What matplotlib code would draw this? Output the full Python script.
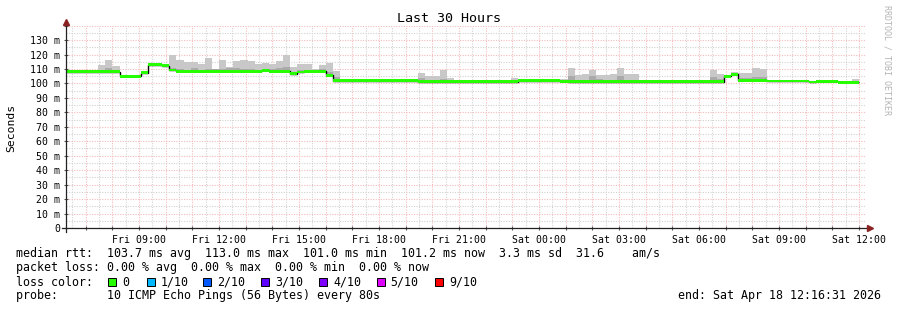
import numpy as np
import matplotlib.pyplot as plt
from matplotlib.patches import Rectangle
from matplotlib.ticker import MultipleLocator, FuncFormatter

# time is in hours since Fri 00:00, rtt in ms
t_start = 6 + 16 / 60 + 31 / 3600   # Fri 06:16:31
t_end = t_start + 30                 # Sat 12:16:31
bin0 = 6 + 8 / 60                    # first 16 min consolidation bin
bin_len = 16 / 60

# median rtt as runs: run starts at bin index, last entry closes the data
med_run_bin = [0, 8, 11, 12, 14, 15, 16, 28, 29, 32, 33, 34, 37, 38, 50, 64,
               70, 71, 93, 94, 95, 99, 105, 106, 109, 112]
med_run_ms = [108.1, 105.1, 107.4, 113.0, 112.3, 109.3, 108.3, 109.0, 108.3,
              106.8, 107.9, 108.4, 105.6, 101.9, 101.2, 101.8, 101.4, 101.1,
              104.9, 106.3, 102.2, 101.7, 101.0, 101.6, 100.9]

# smoke: bins where the ping spread shows, max ping and inner (darker) band top
smoke_bin = [5, 6, 7, 15, 16, 17, 18, 19, 20, 21, 22, 23, 24, 25, 26, 27, 28,
             29, 30, 31, 32, 33, 34, 35, 36, 37, 38, 50, 51, 52, 53, 54, 63,
             70, 71, 72, 73, 74, 75, 76, 77, 78, 79, 80, 90, 91, 92, 93, 94,
             95, 96, 97, 98, 111]
smoke_max = [112.7, 116.2, 112.0, 119.8, 116.2, 115.0, 115.0, 113.6, 117.8,
             110.0, 116.2, 111.3, 115.5, 116.2, 115.5, 113.4, 114.3, 113.4,
             115.4, 120.0, 111.6, 113.1, 113.1, 109.8, 112.8, 114.3, 108.6,
             107.4, 104.8, 104.8, 109.3, 103.7, 103.8,
             103.0, 110.6, 105.8, 106.5, 109.3, 105.8, 105.8, 106.5, 110.6,
             106.5, 106.5, 102.4, 109.3, 106.5, 105.5, 107.9, 107.0, 107.0,
             110.6, 110.3, 103.0]
smoke_mid = [109.0, 110.4, 109.0, 110.5, 109.8, 109.6, 110.8, 109.6, 110.0,
             110.0, 110.3, 111.0, 110.8, 109.8, 110.2, 109.6, 110.0, 110.2,
             111.0, 111.3, 108.0, 109.4, 109.4, 108.8, 109.8, 108.0, 104.5,
             103.6, 102.4, 102.4, 103.3, 101.8, 102.0,
             101.8, 105.2, 102.6, 102.4, 105.0, 103.0, 102.4, 102.6, 104.8,
             102.4, 102.4, 101.5, 104.5, 103.2, 105.0, 106.6, 103.8, 103.8,
             104.2, 104.2, 101.5]

loss_labels = ["0", "1/10", "2/10", "3/10", "4/10", "5/10", "9/10"]
loss_colors = ["#26ff00", "#00b8ff", "#0059ff", "#5e00ff", "#7e00ff",
               "#dd00ff", "#ff0000"]

mono = "DejaVu Sans Mono"
W, H = 897, 310

fig = plt.figure(figsize=(W / 100, H / 100), dpi=100)
fig.patch.set_facecolor("white")
ax = fig.add_axes([66.4 / W, 82 / H, 800 / W, 202.4 / H])

median = np.repeat(med_run_ms, np.diff(med_run_bin))
edges = bin0 + bin_len * np.arange(len(median) + 1)
sb = np.array(smoke_bin)
base = median[sb] - 1.0

ax.bar(edges[sb], np.array(smoke_max) - base, bottom=base, width=bin_len,
       align="edge", color="#c8c8c8", lw=0, zorder=2)
ax.bar(edges[sb], np.array(smoke_mid) - base, bottom=base, width=bin_len,
       align="edge", color="#aaaaaa", lw=0, zorder=2)

ax.stairs(median, edges, baseline=None, color="black", lw=1.0, zorder=3)
med_ext = np.append(median, median[-1])
ax.fill_between(edges, med_ext - 1.0, med_ext + 1.0, step="post",
                color="#26ff00", lw=0, zorder=4)

ax.set_xlim(t_start, t_end)
ax.set_ylim(0, 140)

# grids: red major, grey minor
ax.xaxis.set_major_locator(MultipleLocator(1))
ax.xaxis.set_minor_locator(MultipleLocator(0.5))
ax.yaxis.set_major_locator(MultipleLocator(10))
ax.yaxis.set_minor_locator(MultipleLocator(5))


def xfmt(v, pos):
    h = int(round(v))
    if h % 3:
        return ""
    day = "Fri" if h < 24 else "Sat"
    return f"{day} {h % 24:02d}:00"


def yfmt(v, pos):
    v = int(round(v))
    if v >= 140:
        return ""
    return "0" if v == 0 else f"{v} m"


ax.xaxis.set_major_formatter(FuncFormatter(xfmt))
ax.yaxis.set_major_formatter(FuncFormatter(yfmt))
ax.grid(which="minor", color="#d2d2d2", lw=0.8, ls=(0, (1, 1.3)), zorder=1)
ax.grid(which="major", color="#f6baba", lw=0.8, ls=(0, (1, 1.3)), zorder=1)
ax.set_axisbelow(True)

ax.tick_params(which="major", length=3, direction="inout", color="#555555",
               width=0.8)
ax.tick_params(which="minor", length=0)
ax.tick_params(axis="x", pad=3.5)
ax.tick_params(axis="y", pad=3)
for lab in ax.get_xticklabels() + ax.get_yticklabels():
    lab.set_family(mono)
    lab.set_fontsize(7.1)

for s in ax.spines.values():
    s.set_visible(False)
ax.plot([-0.006, 1.0], [0, 0], transform=ax.transAxes, color="#222222",
        lw=0.9, clip_on=False, zorder=5)
ax.plot([0, 0], [-0.02, 1.0], transform=ax.transAxes, color="#222222",
        lw=0.9, clip_on=False, zorder=5)
ax.plot([1.005], [0], marker=">", ms=4.5, color="#8b2222",
        transform=ax.transAxes, clip_on=False, zorder=6)
ax.plot([0], [1.017], marker="^", ms=4.5, color="#8b2222",
        transform=ax.transAxes, clip_on=False, zorder=6)

fig.text(0.5, 1 - 19 / H, "Last 30 Hours", ha="center", va="center",
         family=mono, fontsize=9.6)
fig.text(11 / W, 1 - 128 / H, "Seconds", rotation=90, ha="center",
         va="center", family=mono, fontsize=8.2)
fig.text(887 / W, 1 - 60 / H, "RRDTOOL / TOBI OETIKER", rotation=270,
         ha="center", va="center", family=mono, fontsize=6, color="#b4b4b4")

fs = 8.4
rows = [
    "median rtt:  103.7 ms avg  113.0 ms max  101.0 ms min  101.2 ms now  3.3 ms sd  31.6    am/s",
    "packet loss: 0.00 % avg  0.00 % max  0.00 % min  0.00 % now",
    "loss color:",
    "probe:       10 ICMP Echo Pings (56 Bytes) every 80s",
]
for i, row in enumerate(rows):
    fig.text(16 / W, 1 - (254 + 14 * i) / H, row, ha="left", va="center",
             family=mono, fontsize=fs)
fig.text(881 / W, 1 - 296 / H, "end: Sat Apr 18 12:16:31 2026", ha="right",
         va="center", family=mono, fontsize=fs)

sq_x = [108, 146.5, 203, 261, 319, 376.5, 435]
for x, lab, col in zip(sq_x, loss_labels, loss_colors):
    fig.patches.append(Rectangle((x / W, 1 - 286 / H), 8 / W, 8 / H,
                                 transform=fig.transFigure, facecolor=col,
                                 edgecolor="black", lw=0.7))
    fig.text((x + 14) / W, 1 - 282 / H, lab, ha="left", va="center",
             family=mono, fontsize=fs)

fig.savefig("out.png", dpi=100)
